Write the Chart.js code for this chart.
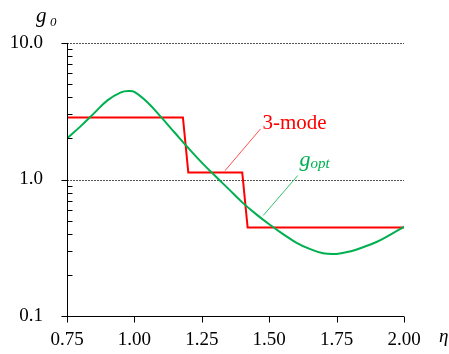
<!DOCTYPE html>
<html>
<head>
<meta charset="utf-8">
<script src="https://cdn.jsdelivr.net/npm/chart.js@4.4.1/dist/chart.umd.min.js"></script>
<style>
  body { margin: 0; background: #fff; }
</style>
</head>
<body>
<canvas id="chart" width="449" height="354"></canvas>
<script>
// eta values and g values
const optEta = [0.75, 0.80, 0.85, 0.90, 0.95, 0.98, 1.00, 1.05, 1.10, 1.15, 1.20, 1.25, 1.30, 1.35,
  1.40, 1.45, 1.50, 1.55, 1.60, 1.65, 1.70, 1.75, 1.80, 1.85, 1.90, 1.95, 2.00];
const optG = [2.0, 2.45, 3.05, 3.8, 4.35, 4.45, 4.38, 3.65, 2.85, 2.2, 1.7, 1.33, 1.06, 0.85,
  0.68, 0.56, 0.47, 0.40, 0.345, 0.31, 0.288, 0.285, 0.297, 0.32, 0.35, 0.395, 0.45];

const modeEta = [0.75, 1.18, 1.20, 1.40, 1.42, 2.00];
const modeG = [2.85, 2.85, 1.125, 1.125, 0.445, 0.445];

const xTicks = [0.75, 1.00, 1.25, 1.50, 1.75, 2.00];
const yTicks = [0.1, 1, 10];

const RED = '#ff0000';
const GREEN = '#00b050';
const serif = '"Liberation Serif", "Times New Roman", serif';

const toPoints = (xs, ys) => xs.map((x, i) => ({ x, y: ys[i] }));

// axis decorations, leader lines and labels
const decor = {
  id: 'decor',
  beforeDatasetsDraw(chart) {
    const { ctx, chartArea: a, scales: { y } } = chart;
    ctx.save();
    ctx.strokeStyle = '#555';
    ctx.lineWidth = 1;
    ctx.setLineDash([2, 1]);
    [1, 10].forEach(v => {
      const py = Math.round(y.getPixelForValue(v)) + 0.5;
      ctx.beginPath();
      ctx.moveTo(a.left, py);
      ctx.lineTo(a.right, py);
      ctx.stroke();
    });
    ctx.restore();
  },
  afterDatasetsDraw(chart) {
    const { ctx, chartArea: a, scales: { x, y } } = chart;
    ctx.save();
    ctx.strokeStyle = '#000';
    ctx.lineWidth = 1;
    const L = Math.round(a.left) + 0.5;
    const B = Math.round(a.bottom) + 0.5;
    ctx.beginPath();
    ctx.moveTo(L, a.top);
    ctx.lineTo(L, B);
    ctx.moveTo(L - 5, B);
    ctx.lineTo(a.right, B);
    // major y ticks, outside
    yTicks.forEach(v => {
      const py = Math.round(y.getPixelForValue(v)) + 0.5;
      ctx.moveTo(L - 6, py);
      ctx.lineTo(L, py);
    });
    // minor y ticks, inside
    [0.1, 1].forEach(d => {
      for (let k = 2; k <= 9; k++) {
        const py = Math.round(y.getPixelForValue(d * k)) + 0.5;
        ctx.moveTo(L, py);
        ctx.lineTo(L + 5, py);
      }
    });
    // x ticks, outside
    xTicks.forEach(v => {
      const px = Math.round(x.getPixelForValue(v)) + 0.5;
      ctx.moveTo(px, B);
      ctx.lineTo(px, B + 6);
    });
    ctx.stroke();

    // leader lines
    ctx.strokeStyle = '#ff5050';
    ctx.beginPath();
    ctx.moveTo(x.getPixelForValue(1.336), y.getPixelForValue(1.16));
    ctx.lineTo(x.getPixelForValue(1.468), y.getPixelForValue(2.35));
    ctx.stroke();
    ctx.strokeStyle = '#33c070';
    ctx.beginPath();
    ctx.moveTo(x.getPixelForValue(1.478), y.getPixelForValue(0.545));
    ctx.lineTo(x.getPixelForValue(1.606), y.getPixelForValue(1.07));
    ctx.stroke();

    // series labels
    ctx.textBaseline = 'alphabetic';
    ctx.textAlign = 'left';
    ctx.fillStyle = RED;
    ctx.font = '21px ' + serif;
    ctx.fillText('3-mode', x.getPixelForValue(1.475), y.getPixelForValue(2.35));
    ctx.fillStyle = GREEN;
    ctx.font = 'italic 22px ' + serif;
    const gx = x.getPixelForValue(1.612);
    const gy = y.getPixelForValue(1) - 14;
    ctx.fillText('g', gx, gy);
    const gw = ctx.measureText('g').width;
    ctx.font = 'italic 15px ' + serif;
    ctx.fillText('opt', gx + gw, gy + 2);

    // axis titles
    ctx.fillStyle = '#000';
    ctx.font = 'italic 21px ' + serif;
    ctx.fillText('g', a.left - 31, 22);
    ctx.font = 'italic 13px ' + serif;
    ctx.fillText('0', a.left - 17, 26);
    ctx.font = 'italic 19px ' + serif;
    ctx.fillText('\u03b7', a.right + 35, 342);
    ctx.restore();
  }
};

function draw() {
  new Chart(document.getElementById('chart'), {
    type: 'line',
    data: {
      datasets: [
        {
          label: 'g_opt',
          data: toPoints(optEta, optG),
          borderColor: GREEN,
          borderWidth: 2,
          pointRadius: 0,
          tension: 0.4,
          fill: false
        },
        {
          label: '3-mode',
          data: toPoints(modeEta, modeG),
          borderColor: RED,
          borderWidth: 2,
          pointRadius: 0,
          tension: 0,
          fill: false
        }
      ]
    },
    options: {
      responsive: false,
      animation: false,
      layout: { padding: { top: 43, right: 45, left: 0, bottom: 0 } },
      plugins: {
        legend: { display: false },
        tooltip: { enabled: false }
      },
      scales: {
        x: {
          type: 'linear',
          min: 0.75,
          max: 2.0,
          afterFit: s => { s.height = 38; },
          afterBuildTicks: s => { s.ticks = xTicks.map(value => ({ value })); },
          grid: { display: false, drawTicks: false },
          border: { display: false },
          ticks: {
            padding: 13,
            color: '#000',
            font: { family: serif, size: 19 },
            callback: v => Number(v).toFixed(2)
          }
        },
        y: {
          type: 'logarithmic',
          min: 0.1,
          max: 10,
          afterFit: s => { s.width = 67; },
          afterBuildTicks: s => { s.ticks = yTicks.map(value => ({ value })); },
          grid: { display: false, drawTicks: false },
          border: { display: false },
          ticks: {
            padding: 24,
            color: '#000',
            font: { family: serif, size: 19 },
            callback: v => Number(v).toFixed(1)
          }
        }
      }
    },
    plugins: [decor]
  });
}

Promise.all([
  document.fonts.load('19px "Liberation Serif"'),
  document.fonts.load('italic 19px "Liberation Serif"')
]).then(draw, draw);
</script>
</body>
</html>
